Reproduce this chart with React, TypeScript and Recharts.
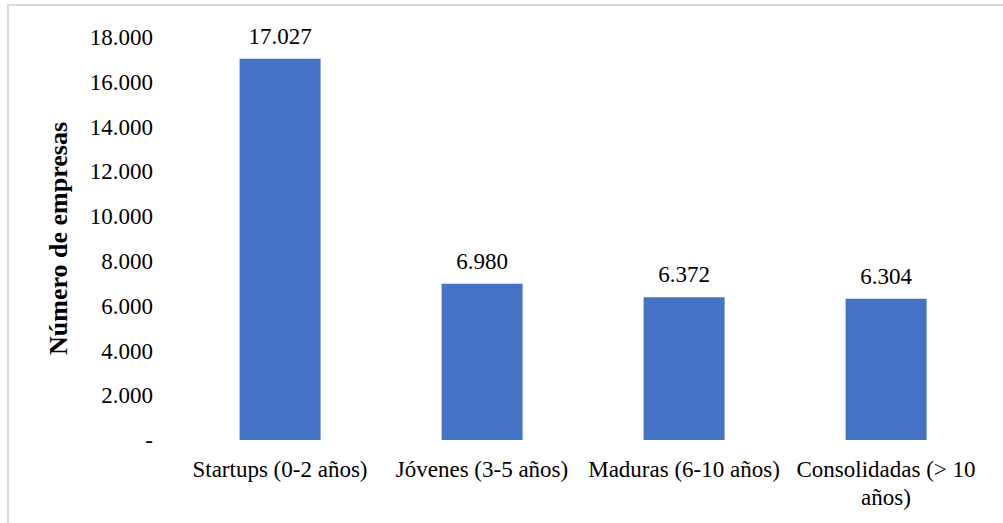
import React from 'react'
import { BarChart, Bar, XAxis, YAxis, LabelList } from 'recharts'

const categories = [
  'Startups (0-2 años)',
  'Jóvenes (3-5 años)',
  'Maduras (6-10 años)',
  'Consolidadas (> 10 años)',
]
const empresas = [17027, 6980, 6372, 6304]
const yTicks = [0, 2000, 4000, 6000, 8000, 10000, 12000, 14000, 16000, 18000]

const data = categories.map((c, i) => ({ name: c, value: empresas[i] }))

const FONT = '"Liberation Serif", "Times New Roman", serif'
const textStyle = { fontFamily: FONT, fontSize: 23, fill: '#000' }

function formatNumber(v: number): string {
  if (v === 0) return '-'
  return String(v).replace(/\B(?=(\d{3})+(?!\d))/g, '.')
}

let ctx: CanvasRenderingContext2D | null = null
function measure(s: string): number {
  if (!ctx) ctx = document.createElement('canvas').getContext('2d')
  if (!ctx) return s.length * 10
  ctx.font = `23px ${FONT}`
  return ctx.measureText(s).width
}

function wrap(label: string, maxWidth: number): string[] {
  const words = label.split(' ')
  const lines: string[] = []
  let cur = ''
  for (const w of words) {
    const next = cur ? cur + ' ' + w : w
    if (cur && measure(next) > maxWidth) {
      lines.push(cur)
      cur = w
    } else {
      cur = next
    }
  }
  if (cur) lines.push(cur)
  return lines
}

function CategoryTick(props: any) {
  const { x, y, payload } = props
  const lines = wrap(String(payload.value), 205)
  return (
    <text x={x} y={y} textAnchor="middle" style={textStyle}>
      {lines.map((l, i) => (
        <tspan key={i} x={x} dy={i === 0 ? 16 : 28}>
          {l}
        </tspan>
      ))}
    </text>
  )
}

export default function App() {
  return (
    <div
      style={{
        position: 'absolute',
        left: 0,
        top: 0,
        width: 1003,
        height: 523,
        overflow: 'hidden',
        background: '#fff',
      }}
    >
      <div
        style={{
          position: 'absolute',
          left: 7,
          top: 4,
          width: 1100,
          height: 600,
          borderTop: '2px solid #d9d9d9',
          borderLeft: '2px solid #d9d9d9',
        }}
      />
      <BarChart
        width={1003}
        height={523}
        data={data}
        margin={{ top: 37, right: 16, bottom: 53, left: 79 }}
        barCategoryGap="30%"
        style={{ position: 'absolute', left: 0, top: 0 }}
      >
        <XAxis
          dataKey="name"
          height={30}
          axisLine={false}
          tickLine={false}
          tickSize={6}
          tickMargin={15}
          interval={0}
          tick={<CategoryTick />}
        />
        <YAxis
          width={100}
          domain={[0, 18000]}
          ticks={yTicks}
          axisLine={false}
          tickLine={false}
          tickSize={6}
          tickMargin={20}
          interval={0}
          tickFormatter={formatNumber}
          tick={{ fill: '#000', fontSize: 23, fontFamily: FONT, style: textStyle }}
          label={{
            value: 'Número de empresas',
            angle: -90,
            position: 'insideLeft',
            offset: -21,
            style: {
              textAnchor: 'middle',
              fontFamily: FONT,
              fontWeight: 'bold',
              fontSize: 26,
              fill: '#000',
            },
          }}
        />
        <Bar dataKey="value" fill="#4472C4" isAnimationActive={false}>
          <LabelList
            dataKey="value"
            position="top"
            offset={15}
            formatter={(v: any) => formatNumber(Number(v))}
            fontFamily={FONT}
            fontSize={23}
            fill="#000"
            style={textStyle}
          />
        </Bar>
      </BarChart>
    </div>
  )
}
